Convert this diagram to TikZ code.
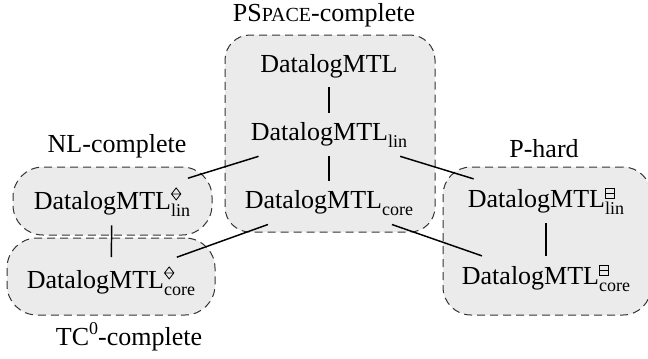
\documentclass[tikz,border=0pt]{standalone}
\usepackage{fontspec}
\setmainfont{Liberation Serif}
\newsavebox{\dmbox}
\newsavebox{\bmbox}
\sbox{\dmbox}{\tikz[line width=0.6pt]{\draw (0,4.5pt)--(3.5pt,9pt)--(7pt,4.5pt)--(3.5pt,0pt)--cycle (0,4.5pt)--(7pt,4.5pt);}}
\sbox{\bmbox}{\tikz[line width=0.6pt]{\draw (0,0) rectangle (6.5pt,7pt) (0,3.5pt)--(6.5pt,3.5pt);}}
\newcommand{\DM}[2]{DatalogMTL\rlap{\raisebox{6.5pt}{\usebox{#2}}}\raisebox{-5.25pt}{\fontsize{13.5}{14}\selectfont #1}}
\newcommand{\DMs}[1]{DatalogMTL\raisebox{-5.25pt}{\fontsize{13.5}{14}\selectfont #1}}
\begin{document}
\begin{tikzpicture}[x=0.75pt,y=-0.75pt,
  grp/.style={draw=black!80, dash pattern=on 6pt off 3.75pt, line width=0.75pt, fill=black!8, rectangle, inner sep=0pt, outer sep=0pt},
  term/.style={inner sep=7pt, outer sep=0pt, anchor=base, font=\fontsize{19.5}{23}\selectfont},
  lab/.style={anchor=base, inner sep=0pt, font=\fontsize{19.5}{23}\selectfont},
  link/.style={line width=1.1pt}]
\useasboundingbox (0,0) rectangle (648,358);
% groups
\node[grp, minimum width=157.5pt, minimum height=147.75pt, rounded corners=18.75pt] (gP) at (330,133.5) {};
\node[grp, minimum width=149.25pt, minimum height=51pt, rounded corners=22.5pt] (gNL) at (112.5,201) {};
\node[grp, minimum width=156pt, minimum height=57.75pt, rounded corners=22.5pt] (gTC) at (111,276.5) {};
\node[grp, minimum width=156pt, minimum height=111pt, rounded corners=21pt] (gPh) at (547,241) {};
% labels
\node[lab] (lP) at (324,21) {PS{\fontsize{15}{15}\selectfont PACE}-complete};
\node[lab] (lNL) at (117,152) {NL-complete};
\node[lab] (lPh) at (544,157) {P-hard};
\node[lab] (lTC) at (129,345) {TC\raisebox{8pt}{\fontsize{13.5}{14}\selectfont 0}-complete};
% terms
\node[term] (full) at (329,72) {DatalogMTL};
\node[term] (lin) at (329,140) {\DMs{lin}};
\node[term] (core) at (329,208) {\DMs{core}};
\node[term] (dlin) at (112,209) {\DM{lin}{\dmbox}};
\node[term] (dcore) at (111,288) {\DM{core}{\dmbox}};
\node[term] (blin) at (546,207) {\DM{lin}{\bmbox}};
\node[term] (bcore) at (546,284) {\DM{core}{\bmbox}};
% links
\draw[link] (full) -- (lin);
\draw[link] (lin) -- (core);
\draw[link] (lin) -- (dlin);
\draw[link] (core) -- (dcore);
\draw[link] (lin) -- (blin);
\draw[link] (core) -- (bcore);
\draw[link] (dlin) -- (dcore);
\draw[link] (blin) -- (bcore);
\end{tikzpicture}
\end{document}
